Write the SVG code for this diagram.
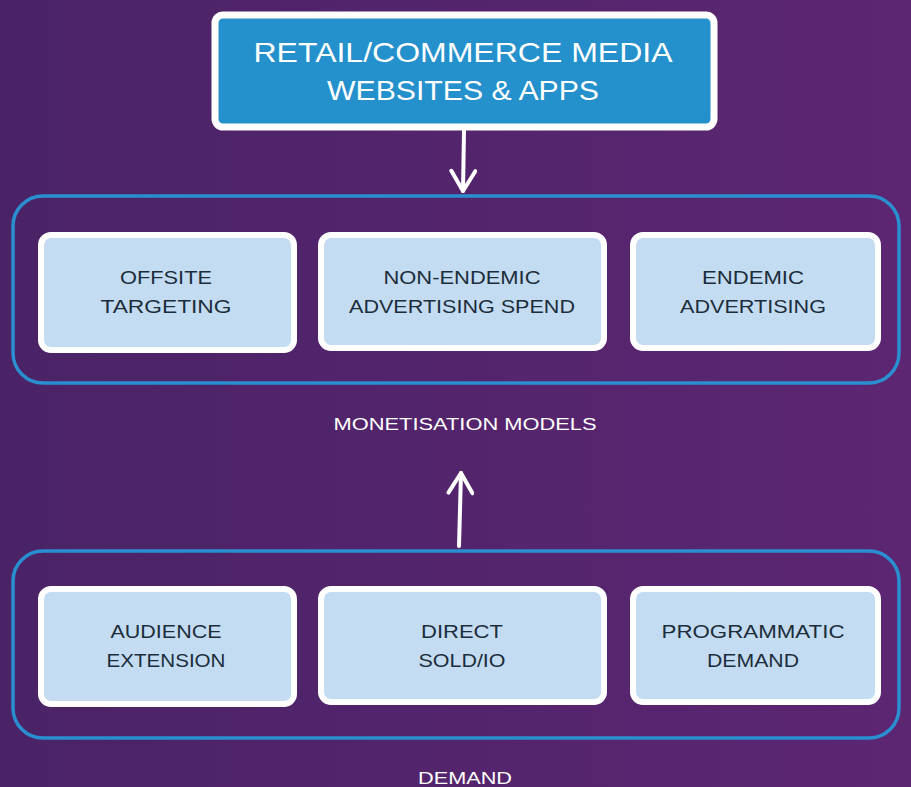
<svg xmlns="http://www.w3.org/2000/svg" width="911" height="787" viewBox="0 0 911 787">
<defs>
<linearGradient id="bg" x1="0" y1="0" x2="1" y2="0">
<stop offset="0" stop-color="#4a2366"/>
<stop offset="1" stop-color="#5c2672"/>
</linearGradient>
<marker id="ah" viewBox="0 0 28 28" refX="24" refY="14" markerWidth="28" markerHeight="28" markerUnits="userSpaceOnUse" orient="auto">
<path d="M4 2 L24 14 L4 26" fill="none" stroke="#ffffff" stroke-width="4" stroke-linecap="round" stroke-linejoin="round"/>
</marker>
<style>
.outer{fill:none;stroke:#2a8fd0;stroke-width:3.5}
.box{fill:#c4dcf2;stroke:#ffffff;stroke-width:6}
.bt{font-family:"Liberation Sans",Arial,sans-serif;font-size:19px;fill:#1b2d3b;text-anchor:middle}
.tt{font-family:"Liberation Sans",Arial,sans-serif;font-size:28px;fill:#ffffff;text-anchor:middle}
.lbl{font-family:"Liberation Sans",Arial,sans-serif;font-size:17px;fill:#ffffff;text-anchor:middle}
.conn{stroke:#ffffff;stroke-width:4;fill:none;stroke-linecap:round}
</style>
</defs>
<rect x="0" y="0" width="911" height="787" fill="url(#bg)"/>

<g id="top-node">
<rect x="215" y="15" width="499" height="112" rx="8" fill="#2490cc" stroke="#ffffff" stroke-width="7"/>
<text class="tt" x="463" y="62" textLength="419" lengthAdjust="spacingAndGlyphs">RETAIL/COMMERCE MEDIA</text>
<text class="tt" x="463" y="100" textLength="272" lengthAdjust="spacingAndGlyphs">WEBSITES &amp; APPS</text>
</g>

<g id="monetisation-models">
<rect class="outer" x="13" y="196" width="886" height="187" rx="30"/>
<text class="lbl" x="465" y="430" textLength="263" lengthAdjust="spacingAndGlyphs">MONETISATION MODELS</text>
</g>
<g id="offsite-targeting">
<rect class="box" x="41" y="235" width="253" height="115" rx="10"/>
<text class="bt" x="166" y="284" textLength="92" lengthAdjust="spacingAndGlyphs">OFFSITE</text>
<text class="bt" x="166" y="313" textLength="131" lengthAdjust="spacingAndGlyphs">TARGETING</text>
</g>
<g id="non-endemic">
<rect class="box" x="321" y="235" width="283" height="113" rx="10"/>
<text class="bt" x="462" y="284" textLength="157" lengthAdjust="spacingAndGlyphs">NON-ENDEMIC</text>
<text class="bt" x="462" y="313" textLength="226" lengthAdjust="spacingAndGlyphs">ADVERTISING SPEND</text>
</g>
<g id="endemic">
<rect class="box" x="633" y="235" width="245" height="113" rx="10"/>
<text class="bt" x="753" y="284" textLength="102" lengthAdjust="spacingAndGlyphs">ENDEMIC</text>
<text class="bt" x="753" y="313" textLength="146" lengthAdjust="spacingAndGlyphs">ADVERTISING</text>
</g>

<g id="demand">
<rect class="outer" x="13" y="551" width="886" height="187" rx="30"/>
<text class="lbl" x="465" y="784" textLength="94" lengthAdjust="spacingAndGlyphs">DEMAND</text>
</g>
<g id="audience-extension">
<rect class="box" x="41" y="589" width="253" height="115" rx="10"/>
<text class="bt" x="166" y="638" textLength="111" lengthAdjust="spacingAndGlyphs">AUDIENCE</text>
<text class="bt" x="166" y="667" textLength="119" lengthAdjust="spacingAndGlyphs">EXTENSION</text>
</g>
<g id="direct-sold">
<rect class="box" x="321" y="589" width="283" height="113" rx="10"/>
<text class="bt" x="462" y="638" textLength="82" lengthAdjust="spacingAndGlyphs">DIRECT</text>
<text class="bt" x="462" y="667" textLength="87" lengthAdjust="spacingAndGlyphs">SOLD/IO</text>
</g>
<g id="programmatic">
<rect class="box" x="633" y="589" width="245" height="113" rx="10"/>
<text class="bt" x="753" y="638" textLength="183" lengthAdjust="spacingAndGlyphs">PROGRAMMATIC</text>
<text class="bt" x="753" y="667" textLength="92" lengthAdjust="spacingAndGlyphs">DEMAND</text>
</g>

<g id="connectors">
<line class="conn" x1="464" y1="131" x2="463" y2="191" marker-end="url(#ah)"/>
<line class="conn" x1="459" y1="546" x2="461" y2="473" marker-end="url(#ah)"/>
</g>
</svg>
